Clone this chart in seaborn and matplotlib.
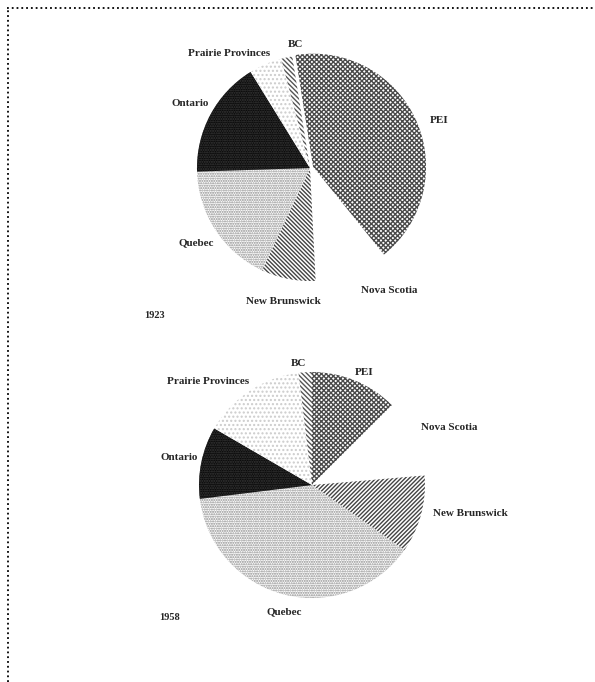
#!/usr/bin/python3

import seaborn as sns
import matplotlib.pyplot as plt
from matplotlib.lines import Line2D

# province shares (percent)
provinces = ['PEI', 'Nova Scotia', 'New Brunswick', 'Quebec',
             'Ontario', 'Prairie Provinces', 'BC']
share_1923 = [41.7, 10.0, 7.8, 17.5, 16.7, 4.7, 1.6]
share_1958 = [12.5, 11.1, 11.1, 38.2, 10.3, 14.7, 1.9]
years = ['1923', '1958']


def main():
    sns.set_theme(style='white')
    plt.rcParams['font.family'] = ['Liberation Serif', 'DejaVu Serif']
    plt.rcParams['hatch.linewidth'] = 1.0

    fig = plt.figure(figsize=(5.95, 6.82), dpi=100)

    # fill style per province: facecolor, hatch, hatch colour
    styles = {
        'PEI': ('white', 'x' * 7, '#4a4a4a'),
        'Nova Scotia': ('white', '', 'white'),
        'New Brunswick': ('white', '\\' * 8, '#444444'),
        'Quebec': ('white', '.' * 7, '#8a8a8a'),
        'Ontario': ('#0a0a0a', '.' * 7, '#3a3a3a'),
        'Prairie Provinces': ('white', '.' * 4, '#cccccc'),
        'BC': ('white', '\\' * 7, '#555555'),
    }

    # label nudges (data units) where the original moved a label off its wedge
    nudges = [
        {'Nova Scotia': (0.27, 0.04), 'Prairie Provinces': (-0.24, -0.09),
         'BC': (0.12, -0.08), 'PEI': (0.02, -0.08)},
        {'PEI': (0.0, -0.11), 'Nova Scotia': (0.13, 0.0),
         'New Brunswick': (0.24, 0.06), 'Prairie Provinces': (-0.26, -0.09),
         'BC': (-0.05, -0.12), 'Quebec': (0.05, 0.04)},
    ]

    axes_pos = [[0.2361, 0.5051, 0.5697, 0.497],
                [0.2395, 0.0403, 0.5697, 0.497]]
    starts = [99, 90]
    explode = [[0.03, 0, 0, 0, 0, 0, 0], [0, 0, 0, 0, 0, 0, 0]]
    nb_hatch = ['\\' * 8, '/' * 8]

    for i, values in enumerate([share_1923, share_1958]):
        ax = fig.add_axes(axes_pos[i])
        wedges, texts = ax.pie(values, labels=provinces, startangle=starts[i],
                               counterclock=False, labeldistance=1.2,
                               explode=explode[i],
                               wedgeprops=dict(linewidth=0),
                               textprops=dict(fontsize=8, fontweight='bold'))
        for w, name in zip(wedges, provinces):
            fc, hatch, hc = styles[name]
            if name == 'New Brunswick':
                hatch = nb_hatch[i]
            w.set_facecolor(fc)
            w.set_hatch(hatch)
            w.set_edgecolor(hc)
            w.set_linewidth(0)
        for t in texts:
            t.set_ha('center')
            dx, dy = nudges[i].get(t.get_text(), (0, 0))
            x, y = t.get_position()
            t.set_position((x + dx, y + dy))
        ax.set_xlim(-1.5, 1.5)
        ax.set_ylim(-1.5, 1.5)
        ax.axis('off')

    fig.text(154 / 595, 1 - 315 / 682, years[0], fontsize=7.5, fontweight='bold',
             ha='center', va='center')
    fig.text(170 / 595, 1 - 617 / 682, years[1], fontsize=7.5, fontweight='bold',
             ha='center', va='center')

    # dotted frame, cut off at right and bottom like the scan
    fig.add_artist(Line2D([7 / 595, 1], [1 - 8 / 682, 1 - 8 / 682],
                          transform=fig.transFigure, color='black',
                          linestyle=':', linewidth=1.3))
    fig.add_artist(Line2D([8 / 595, 8 / 595], [0, 1 - 8 / 682],
                          transform=fig.transFigure, color='black',
                          linestyle=':', linewidth=1.3))

    fig.savefig('out.png', dpi=100)


if __name__ == '__main__':
    main()
